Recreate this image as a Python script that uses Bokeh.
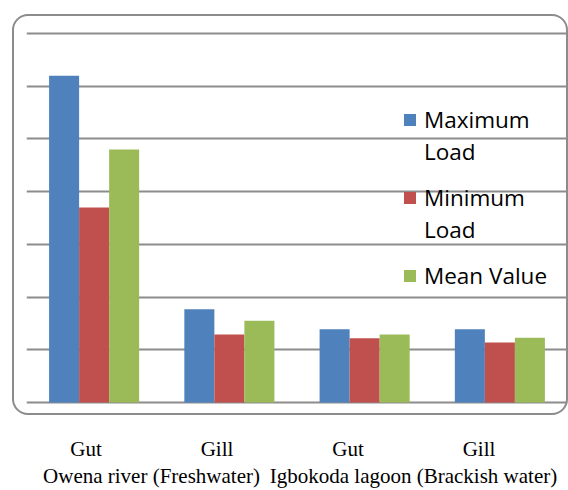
from bokeh.plotting import figure
from bokeh.layouts import column, row
from bokeh.models import (FactorRange, Range1d, SingleIntervalTicker, Spacer,
                          Legend, LegendItem, ColumnDataSource)
from bokeh.transform import dodge
from bokeh.embed import file_html
from bokeh.resources import INLINE

# ---- data ----
regions = ["Owena river (Freshwater)", "Owena river (Freshwater)",
           "Igbokoda lagoon (Brackish water)", "Igbokoda lagoon (Brackish water)"]
organs = ["Gut", "Gill", "Gut", "Gill"]
series_names = ["Maximum", "Minimum", "Mean Value"]
series_second_line = ["Load", "Load"]
maximum_load = [6.20, 1.77, 1.39, 1.39]
minimum_load = [3.70, 1.29, 1.22, 1.14]
mean_value = [4.80, 1.55, 1.29, 1.23]
colors = ["#4F81BD", "#C0504D", "#9BBB59"]

factors = list(zip(regions, organs))
source = ColumnDataSource(dict(x=factors, maxl=maximum_load, minl=minimum_load, mean=mean_value))
xr = FactorRange(*factors, group_padding=0, factor_padding=0, range_padding=0)

# ---- chart area inside the rounded box ----
p = figure(x_range=xr, y_range=Range1d(-0.038, 7.038),
           width=556, height=401,
           min_border_left=14, min_border_right=1, min_border_top=17, min_border_bottom=11,
           x_axis_location=None, y_axis_location=None,
           output_backend="svg", toolbar_location=None)
p.styles = {"outline": "2px solid #8c8c8c", "outline-offset": "-2px", "border-radius": "16px"}
p.border_fill_color = None
p.background_fill_color = None
p.outline_line_color = None
p.xgrid.visible = False
p.ygrid.ticker = SingleIntervalTicker(interval=1)
p.ygrid.grid_line_color = "#8c8c8c"
p.ygrid.grid_line_width = 2

bw = 0.222
renderers = []
for col, off, c in zip(["maxl", "minl", "mean"], [-bw, 0, bw], colors):
    r = p.vbar(x=dodge("x", off, range=xr), top=col, width=bw, source=source,
               fill_color=c, line_color=None)
    renderers.append(r)

common = dict(padding=0, margin=0, glyph_width=15, glyph_height=15, label_standoff=7,
              label_text_font="Open Sans", label_text_font_size="22.5px",
              label_text_color="black", spacing=47,
              border_line_color=None, background_fill_alpha=0)
legend_a = Legend(items=[LegendItem(label=l, renderers=[r]) for l, r in zip(series_names, renderers)],
                  location=(376, 113), **common)
legend_b = Legend(items=[LegendItem(label=l, renderers=[]) for l in series_second_line],
                  location=(376, 159), **common)
p.add_layout(legend_a, "center")
p.add_layout(legend_b, "center")

# ---- category labels below the box ----
xr_labels = FactorRange(*factors, group_padding=0, factor_padding=0, range_padding=0)
pb = figure(x_range=xr_labels, y_range=Range1d(0, 1), width=568, height=75,
            min_border_left=20, min_border_right=24, min_border_top=0, min_border_bottom=0,
            y_axis_location=None, output_backend="svg", toolbar_location=None)
pb.outline_line_color = None
pb.grid.visible = False
ax = pb.xaxis[0]
ax.axis_line_color = None
ax.major_tick_line_color = None
ax.major_tick_out = 0
ax.major_tick_in = 0
ax.major_label_standoff = 0
ax.major_label_text_font = "Liberation Serif"
ax.major_label_text_font_size = "21px"
ax.major_label_text_color = "black"
ax.group_text_font = "Liberation Serif"
ax.group_text_font_size = "21px"
ax.group_text_color = "black"
ax.group_text_font_style = "normal"
ax.separator_line_color = None

layout = column(Spacer(width=568, height=14),
                row(Spacer(width=12, height=401), p, spacing=0),
                pb, spacing=0)
open("out.html", "w").write(file_html(layout, INLINE))
